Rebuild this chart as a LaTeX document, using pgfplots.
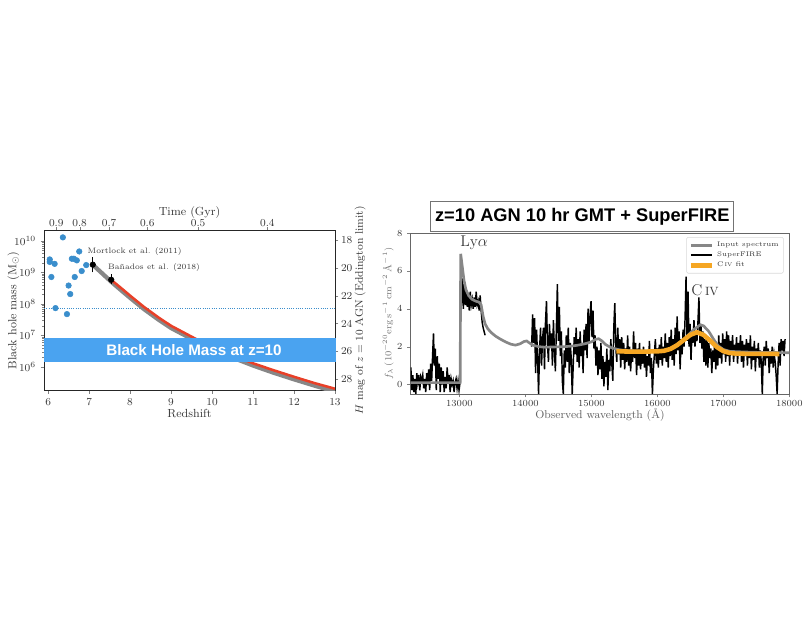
\documentclass[border=0pt]{standalone}
\usepackage{fontspec}
\usepackage{pgfplots}
\pgfplotsset{compat=1.18}
\newfontfamily\arialfont{Liberation Sans}
\definecolor{dotblue}{RGB}{58,142,204}
\definecolor{bandblue}{RGB}{74,163,240}
\definecolor{curvered}{RGB}{232,64,40}
\definecolor{specgray}{RGB}{135,135,135}
\definecolor{fitorange}{RGB}{245,166,35}
\definecolor{txt}{RGB}{55,55,55}
\begin{document}
\begin{tikzpicture}
\path[use as bounding box] (0,0) rectangle (604.5pt,467.25pt);
% ---------------- left panel: main axis
\begin{axis}[
 at={(33pt,174.5pt)}, anchor=south west, scale only axis,
 width=218.25pt, height=119.9pt,
 xmin=5.9, xmax=13, ymode=log, ymin=1.78e5, ymax=2.14e10,
 xtick={6,...,13}, ytick={1e6,1e7,1e8,1e9,1e10},
 xtick pos=left, ytick pos=left,
 tick align=outside, major tick length=2.5pt, minor tick length=1.5pt,
 tick label style={font=\fontsize{8}{9}\selectfont, text=txt},
 label style={font=\fontsize{8.8}{10}\selectfont, text=txt},
 xlabel={Redshift}, ylabel={Black hole mass (M$_\odot$)},
 xlabel style={yshift=4pt},
 ylabel style={at={(axis description cs:-0.105,0.5)}, anchor=center},
 axis line style={black!85, line width=0.6pt},
]
\addplot[only marks, color=dotblue, mark=*, mark size=2.1pt, mark options={draw=dotblue, fill=dotblue}] coordinates {
(6.04,2.57e9) (6.04,2.14e9) (6.16,1.86e9) (6.08,7.1e8) (6.18,7.3e7) (6.36,1.29e10)
(6.46,4.7e7) (6.50,3.8e8) (6.54,2.04e8) (6.58,2.7e9) (6.63,2.7e9) (6.65,7.1e8)
(6.70,2.4e9) (6.76,4.6e9) (6.82,1.1e9) (6.93,1.7e9)};
\addplot[densely dotted, dotblue, line width=0.7pt] coordinates {(5.9,7.3e7) (13,7.3e7)};
\addplot[specgray, line width=3.2pt] coordinates {
(7.09,1.74e9) (7.3,9.77e8) (7.54,5.01e8) (7.8,2.57e8) (8.0,1.55e8) (8.34,6.76e7)
(8.7,3.09e7) (9.0,1.70e7) (9.64,6.17e6) (10.0,3.72e6) (10.5,1.95e6) (11.02,1.07e6)
(11.5,6.46e5) (12.0,3.98e5) (12.5,2.51e5) (13.0,1.62e5)};
\addplot[curvered, line width=1.9pt] coordinates {
(7.54,5.75e8) (7.8,3.02e8) (8.0,1.82e8) (8.34,7.94e7) (8.7,3.63e7) (9.0,2.0e7)
(9.64,7.24e6) (10.0,4.37e6) (10.5,2.29e6) (11.02,1.26e6) (11.5,7.76e5) (12.0,4.79e5)
(12.5,3.02e5) (13.0,2.0e5)};
\addplot[black, line width=0.8pt] coordinates {(7.09,1.0e9) (7.09,3.1e9)};
\addplot[black, line width=0.8pt] coordinates {(7.54,4.3e8) (7.54,9.1e8)};
\addplot[only marks, mark=*, mark size=2.1pt, black] coordinates {(7.09,1.75e9) (7.54,5.8e8)};
\node[anchor=west, inner sep=0pt, font=\fontsize{5.9}{6}\selectfont, text=txt] at (axis cs:6.96,4.6e9) {Mortlock et al. (2011)};
\node[anchor=west, inner sep=0pt, font=\fontsize{5.9}{6}\selectfont, text=txt] at (axis cs:7.46,1.45e9) {Ba\~nados et al. (2018)};
\end{axis}
% right y axis (H mag)
\begin{axis}[
 at={(33pt,174.5pt)}, anchor=south west, scale only axis,
 width=218.25pt, height=119.9pt,
 xmin=5.9, xmax=13, ymin=17.3, ymax=28.8, y dir=reverse,
 hide x axis, axis y line*=right, ytick={18,20,...,28},
 tick align=outside, major tick length=2.5pt,
 tick label style={font=\fontsize{8}{9}\selectfont, text=txt},
 yticklabel style={xshift=-1.5pt},
 label style={font=\fontsize{8.2}{9}\selectfont, text=txt},
 ylabel={$H$ mag of $z=10$ AGN (Eddington limit)},
 ylabel style={at={(axis description cs:1.086,0.5)}, anchor=center},
 axis line style={black!85, line width=0.6pt},
]
\addplot[draw=none] coordinates {(6,20)};
\end{axis}
% top axis (time)
\begin{axis}[
 at={(33pt,174.5pt)}, anchor=south west, scale only axis,
 width=218.25pt, height=119.9pt,
 xmin=5.9, xmax=13, ymin=0, ymax=1,
 hide y axis, axis x line*=top,
 xtick={6.20,6.77,7.49,8.42,9.66,11.35}, xticklabels={0.9,0.8,0.7,0.6,0.5,0.4},
 tick align=outside, major tick length=2.5pt,
 tick label style={font=\fontsize{8}{9}\selectfont, text=txt},
 xticklabel style={yshift=-3pt},
 label style={font=\fontsize{8.8}{10}\selectfont, text=txt},
 xlabel={Time (Gyr)}, xlabel style={yshift=-6.5pt},
 axis line style={black!85, line width=0.6pt},
]
\addplot[draw=none] coordinates {(7,0.5)};
\end{axis}
% blue band
\fill[bandblue] (33pt,195.75pt) rectangle (252pt,213.75pt);
\node[text=white, font={\arialfont\bfseries\fontsize{11.4}{13}\selectfont}] at (145.5pt,204.75pt) {Black Hole Mass at z=10};
% ---------------- right panel
\begin{axis}[
 at={(307.9pt,171.75pt)}, anchor=south west, scale only axis,
 width=284.1pt, height=120.75pt,
 xmin=12260, xmax=18000, ymin=-0.5, ymax=8,
 xtick={13000,14000,...,18000}, ytick={0,2,4,6,8},
 xtick pos=left, ytick pos=left,
 scaled x ticks=false,
 xticklabel style={/pgf/number format/1000 sep={}, yshift=1.5pt},
 tick align=outside, major tick length=2.5pt,
 tick label style={font=\fontsize{7.5}{8}\selectfont, text=txt},
 xlabel style={font=\fontsize{8.5}{9}\selectfont, text=txt!80, yshift=5pt},
 ylabel style={font=\fontsize{7}{8}\selectfont, text=txt!70, at={(axis description cs:-0.059,0.5)}, anchor=center},
 xlabel={Observed wavelength (\AA)},
 ylabel={$f_\lambda\,(10^{-20}\mathrm{erg\,s^{-1}\,cm^{-2}\,\AA^{-1}})$},
 axis line style={black!60, line width=0.6pt},
 legend style={at={(0.985,0.975)}, anchor=north east, font=\fontsize{5}{6}\selectfont,
   draw=black!15, rounded corners=1pt, row sep=-1.5pt, inner sep=1.5pt, text=txt},
 legend cell align=left,
 legend image code/.code={\draw[#1] (0pt,0pt) -- (16pt,0pt);},
]
% SuperFIRE segment A
\addplot[black, line width=1.1pt, forget plot] coordinates {
(12265,0.9) (12280,-0.3) (12295,0.5) (12310,-0.4) (12325,0.3) (12340,-0.5) (12355,0.6)
(12370,0.1) (12385,0.5) (12400,-0.3) (12415,0.4) (12430,0.2) (12445,0.5) (12460,-0.2)
(12475,0.3) (12490,-0.4) (12505,0.6) (12520,0.0) (12535,0.8) (12550,-0.3) (12565,1.1)
(12580,0.2) (12595,1.6) (12608,2.7) (12620,1.0) (12635,1.9) (12650,-0.3) (12665,1.5)
(12680,0.3) (12695,1.1) (12710,-0.4) (12725,0.9) (12740,0.0) (12755,0.7) (12770,-0.4)
(12785,0.4) (12800,-0.2) (12815,0.9) (12830,0.1) (12845,0.5) (12860,-0.4) (12875,0.3)
(12890,0.0) (12905,0.2) (12920,-0.4) (12935,0.1) (12950,0.3) (12965,-0.2) (12980,0.2)
(12995,-0.3) (13010,0.1)};
% segment B
\addplot[black, line width=1.1pt, forget plot] coordinates {
(13035,4.3) (13045,5.6) (13060,4.0) (13075,5.3) (13090,4.2) (13105,5.0) (13120,4.1)
(13135,4.8) (13150,3.9) (13165,4.9) (13180,4.2) (13195,4.5) (13210,4.0) (13225,4.6)
(13240,4.1) (13255,4.9) (13270,4.2) (13285,4.4) (13300,3.9) (13315,4.7) (13330,3.9)
(13345,3.3) (13360,3.0) (13375,2.8) (13390,2.6)};
% segment C+D
\addplot[black, line width=1.1pt, forget plot] coordinates {
(14095,2.0) (14110,3.7) (14125,2.2) (14140,3.5) (14155,0.6) (14170,2.9) (14185,1.4)
(14200,-0.5) (14215,1.8) (14230,3.0) (14245,1.0) (14260,2.4) (14275,3.0) (14290,0.8)
(14305,3.3) (14320,4.4) (14335,2.1) (14350,1.2) (14365,3.2) (14380,2.0) (14395,2.7)
(14410,1.0) (14425,3.4) (14440,1.8) (14455,0.7) (14470,3.0) (14485,5.3) (14500,2.3)
(14515,4.1) (14530,1.5) (14545,2.8) (14560,0.2) (14575,-0.5) (14590,1.8) (14605,0.9)
(14620,2.6) (14635,1.2) (14650,3.0) (14665,0.6) (14680,2.2) (14695,1.4) (14710,-0.5)
(14725,1.0) (14740,2.5) (14755,1.6) (14770,3.0) (14785,1.2) (14800,2.4) (14815,0.9)
(14830,2.8) (14845,1.5) (14860,2.2) (14875,0.6) (14890,2.9) (14905,1.8) (14920,3.2)
(14935,1.4) (14950,4.0) (14965,2.2) (14980,3.6) (14995,4.4) (15010,2.5) (15025,3.9)
(15040,1.9) (15055,2.6) (15070,1.0) (15085,2.0) (15100,0.5) (15115,1.8) (15130,0.8)
(15145,2.2) (15160,0.3) (15175,1.5) (15190,-0.1) (15205,1.2) (15220,0.4) (15235,1.9)
(15250,-0.3) (15265,1.3) (15280,0.7) (15295,2.4) (15310,1.1) (15325,0.2) (15340,3.0)
(15355,4.3) (15370,2.0) (15385,1.2) (15400,3.0) (15415,1.6) (15430,2.4) (15445,0.9)
(15460,2.5) (15475,1.3) (15490,2.2) (15505,0.8) (15520,1.9) (15535,1.2) (15550,2.6)
(15565,1.0) (15580,2.0) (15595,0.7) (15610,1.8) (15625,1.2) (15640,2.8) (15655,1.4)
(15670,2.2) (15685,0.5) (15700,1.9) (15715,1.0) (15730,2.2) (15745,0.8) (15760,1.6)
(15775,1.1) (15790,2.0) (15805,0.9) (15820,1.8) (15835,0.4) (15850,1.5) (15865,1.0)
(15880,2.3) (15895,0.6) (15910,1.4) (15925,-0.5) (15940,0.8) (15955,1.6) (15970,2.4)
(15985,1.1) (16000,1.9) (16015,0.9) (16030,2.1) (16045,1.3) (16060,2.5) (16075,1.0)
(16090,2.0) (16105,1.4) (16120,2.7) (16135,1.2) (16150,2.2) (16165,0.9) (16180,2.5)
(16195,1.5) (16210,2.9) (16225,1.3) (16240,2.4) (16255,1.0) (16270,3.0) (16285,1.6)
(16300,3.6) (16315,1.8) (16330,2.8) (16345,0.8) (16360,2.4) (16375,1.6) (16390,2.9)
(16405,2.0) (16420,3.5) (16435,5.7) (16450,2.3) (16465,4.9) (16480,2.0) (16495,3.2)
(16510,1.3) (16525,2.8) (16540,2.2) (16555,3.4) (16570,2.0) (16585,2.8) (16600,2.3)
(16615,3.3) (16630,4.6) (16645,2.2) (16660,3.2) (16675,1.9) (16690,2.8) (16705,1.2)
(16720,2.4) (16735,1.0) (16750,2.5) (16765,0.9) (16780,2.2) (16795,1.4) (16810,1.9)
(16825,0.6) (16840,1.8) (16855,1.2) (16870,2.3) (16885,0.8) (16900,2.0) (16915,1.0)
(16930,2.6) (16945,1.4) (16960,2.2) (16975,1.1) (16990,2.7) (17005,1.6) (17020,2.4)
(17035,1.2) (17050,2.8) (17065,1.5) (17080,2.6) (17095,1.0) (17110,2.3) (17125,1.7)
(17140,2.6) (17155,1.2) (17170,2.1) (17185,1.5) (17200,2.5) (17215,1.1) (17230,2.2)
(17245,1.6) (17260,2.6) (17275,1.2) (17290,2.3) (17305,0.9) (17320,2.1) (17335,1.5)
(17350,2.4) (17365,1.0) (17380,2.2) (17395,1.4) (17410,2.6) (17425,0.8) (17440,2.0)
(17455,1.3) (17470,2.3) (17485,0.7) (17500,1.9) (17515,1.4) (17530,2.2) (17545,0.9)
(17560,1.8) (17575,1.2) (17590,-0.5) (17605,1.5) (17620,2.0) (17635,1.0) (17650,2.3)
(17665,1.4) (17680,1.9) (17695,0.6) (17710,1.7) (17725,1.1) (17740,2.0) (17755,0.9)
(17770,1.6) (17785,1.2) (17800,0.5) (17815,-0.5) (17830,1.1) (17845,2.2) (17860,1.0)
(17875,2.4) (17890,1.8) (17905,2.3) (17920,1.5) (17935,2.4)};
% input spectrum
\addplot[specgray, line width=2pt, forget plot] coordinates {
(12262,0.1) (13012,0.1) (13020,6.9) (13045,6.2) (13070,5.5) (13100,5.0) (13140,4.7)
(13190,4.5) (13250,4.4) (13300,4.35) (13330,4.2) (13360,3.6) (13390,3.2) (13430,2.95)
(13480,2.75) (13550,2.55) (13620,2.4) (13700,2.25) (13780,2.13) (13850,2.08) (13920,2.15)
(13980,2.27) (14020,2.3) (14060,2.2) (14120,2.07) (14200,2.0) (14300,1.97) (14400,1.98)
(14500,1.99) (14600,2.0) (14700,2.03) (14800,2.08) (14900,2.15) (15000,2.25) (15060,2.38)
(15110,2.42) (15160,2.3) (15220,2.1) (15300,1.95) (15400,1.85) (15500,1.8) (15700,1.77)
(15900,1.76) (16100,1.8) (16250,1.95) (16350,2.2) (16450,2.55) (16550,2.9) (16650,3.15)
(16700,3.1) (16780,2.8) (16850,2.4) (16920,2.05) (17000,1.85) (17100,1.75) (17300,1.72)
(17500,1.7) (17700,1.69) (18000,1.68)};
% C IV fit
\addplot[fitorange, line width=3.4pt, forget plot] coordinates {
(15380,1.75) (15600,1.74) (15800,1.74) (16000,1.75) (16100,1.78) (16200,1.88) (16300,2.08)
(16400,2.35) (16500,2.62) (16600,2.76) (16700,2.62) (16800,2.32) (16900,1.98) (17000,1.76)
(17100,1.66) (17200,1.63) (17400,1.62) (17600,1.62) (17850,1.61)};
\addlegendimage{specgray, line width=2pt}
\addlegendentry{Input spectrum}
\addlegendimage{black, line width=1.1pt}
\addlegendentry{SuperFIRE}
\addlegendimage{fitorange, line width=3.4pt}
\addlegendentry{C\,{\fontsize{4}{5}\selectfont IV} fit}
\node[font=\fontsize{11.7}{13}\selectfont, text=txt] at (axis cs:13225,7.5) {Ly$\alpha$};
\node[font=\fontsize{11.7}{13}\selectfont, text=txt] at (axis cs:16723,4.98) {C\,{\fontsize{9}{10}\selectfont IV}};
\end{axis}
% title box
\node[draw=black!55, line width=0.8pt, fill=white, minimum width=227pt, minimum height=22.5pt,
  inner sep=0pt, font={\arialfont\bfseries\fontsize{13.7}{16}\selectfont}] at (436.7pt,304.7pt)
  {z=10 AGN 10 hr GMT + SuperFIRE};
\end{tikzpicture}
\end{document}
